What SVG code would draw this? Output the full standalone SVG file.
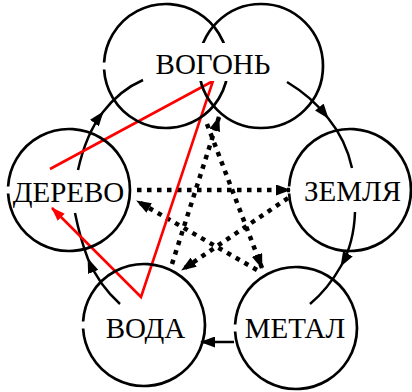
<svg xmlns="http://www.w3.org/2000/svg" width="412" height="392" viewBox="0 0 412 392">
<defs>
<marker id="ah" markerUnits="userSpaceOnUse" markerWidth="15" markerHeight="11" viewBox="0 0 15 11" refX="14" refY="5.5" orient="auto"><path d="M0,0 L15,5.5 L0,11 z" fill="#000"/></marker>
<marker id="ahr" markerUnits="userSpaceOnUse" markerWidth="14" markerHeight="10" viewBox="0 0 14 10" refX="13" refY="5" orient="auto"><path d="M0,0 L14,5 L0,10 z" fill="#f00"/></marker>
<style>
.c{fill:none;stroke:#000;stroke-width:2.7}
.t{font-family:"Liberation Serif","Times New Roman",serif;font-size:29px;fill:#000;text-anchor:middle}
.s{fill:none;stroke:#000;stroke-width:2.5}
.d{fill:none;stroke:#000;stroke-width:4.5;stroke-dasharray:4.5 5.5}
.r{fill:none;stroke:#f00;stroke-width:2.6;stroke-linejoin:miter}
</style>
</defs>
<g id="connectors">
<path class="s" d="M287,82 Q312,97 328,118 Q346,140 352,168" marker-mid="url(#ah)"/>
<path class="s" d="M355,212 Q354,243 341,266 Q328,289 310,304" marker-mid="url(#ah)"/>
<path class="s" d="M234,342 L201,342" marker-end="url(#ah)"/>
<path class="s" d="M120,304 Q99,285 88,259 Q80,238 75,213" marker-mid="url(#ah)"/>
<path class="s" d="M78,170 Q86,134 103,112 Q120,90 143,80" marker-mid="url(#ah)"/>
<path class="d" d="M137,190 L290,190" marker-end="url(#ah)"/>
<path class="d" d="M288,198 L182,270" marker-end="url(#ah)"/>
<path class="d" d="M172,264 L219,117" marker-end="url(#ah)"/>
<path class="d" d="M207,124 L262,268" marker-end="url(#ah)"/>
<path class="d" d="M257,270 L137,201" marker-end="url(#ah)"/>
<path class="r" d="M50,169 L213,81 L141,297 L52,208" marker-end="url(#ahr)"/>
</g>
<g id="node-vogon">
<path class="c" d="M104.1,62.5 A62,62 0 1 1 104.1,69.5"/>
<circle class="c" cx="261" cy="66" r="62"/>
<rect x="150" y="43" width="127" height="38" fill="#fff"/>
<text class="t" x="213" y="74">ВОГОНЬ</text>
</g>
<g id="node-zemlia">
<path class="c" d="M289.1,186.5 A61,61 0 1 1 289.1,193.5"/>
<text class="t" x="352.5" y="201">ЗЕМЛЯ</text>
</g>
<g id="node-metal">
<path class="c" d="M235.1,324.5 A61,61 0 1 1 235.1,331.5"/>
<text class="t" x="295" y="338">МЕТАЛ</text>
</g>
<g id="node-voda">
<path class="c" d="M83.1,321.5 A61,61 0 1 1 83.1,328.5"/>
<text class="t" x="145.5" y="338">ВОДА</text>
</g>
<g id="node-derevo">
<path class="c" d="M8.1,186.5 A61,61 0 1 1 8.1,193.5"/>
<text class="t" x="68.5" y="202">ДЕРЕВО</text>
</g>
</svg>
